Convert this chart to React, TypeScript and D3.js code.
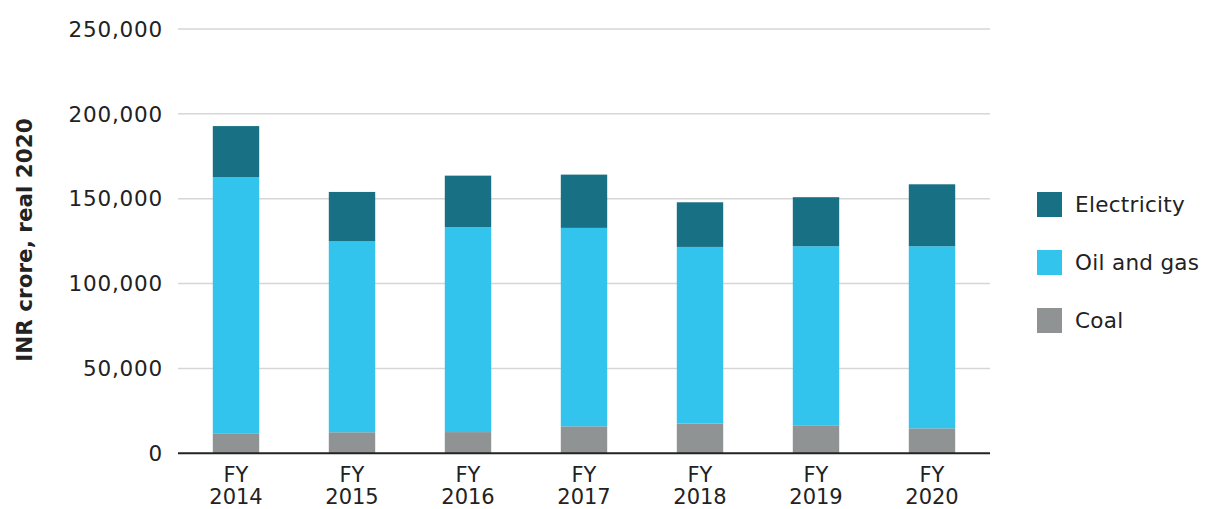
import React from "react";
import * as d3 from "d3";

const categories = ["2014", "2015", "2016", "2017", "2018", "2019", "2020"];
const coal = [11800, 12400, 12500, 15900, 17500, 16500, 14700];
const oilAndGas = [151000, 112500, 120700, 116900, 104100, 105500, 107300];
const electricity = [30000, 29100, 30400, 31400, 26300, 28900, 36500];
const yTicks = [0, 50000, 100000, 150000, 200000, 250000];
const seriesNames = ["Coal", "Oil and gas", "Electricity"];
const seriesColors = ["#8f9394", "#33c4ed", "#177084"];

const W = 1212;
const H = 509;
const FONT = "'DejaVu Sans', sans-serif";

export default function App() {
  const x = d3
    .scaleBand<string>()
    .domain(categories)
    .range([178, 990])
    .paddingInner(0.6)
    .paddingOuter(0.3);
  const y = d3.scaleLinear().domain([0, 250000]).range([453.3, 29]);

  const rows = categories.map((c, i) => ({
    cat: c,
    Coal: coal[i],
    "Oil and gas": oilAndGas[i],
    Electricity: electricity[i],
  }));
  const stack = d3.stack<any>().keys(seriesNames)(rows);
  const fmt = d3.format(",");

  const legendOrder = [2, 1, 0];

  return (
    <svg
      width={W}
      height={H}
      style={{ position: "absolute", left: 0, top: 0, background: "#fff" }}
    >
      {yTicks.filter((t) => t > 0).map((t) => (
        <line
          key={t}
          x1={178}
          x2={990}
          y1={y(t)}
          y2={y(t)}
          stroke="#d6d6d6"
          strokeWidth={1.5}
        />
      ))}
      {yTicks.map((t) => (
        <text
          key={"l" + t}
          x={163}
          y={y(t)}
          dy="0.36em"
          textAnchor="end"
          fontFamily={FONT}
          fontSize={21.5}
          letterSpacing={0.8}
          fill="#222"
        >
          {fmt(t)}
        </text>
      ))}
      <text
        transform={`translate(32,240) rotate(-90)`}
        textAnchor="middle"
        fontFamily={FONT}
        fontWeight={700}
        fontSize={21.5}
        fill="#222"
      >
        INR crore, real 2020
      </text>
      {stack.map((s, si) => (
        <g key={s.key} fill={seriesColors[si]}>
          {s.map((d, i) => (
            <rect
              key={i}
              x={x(categories[i])}
              width={x.bandwidth()}
              y={y(d[1])}
              height={y(d[0]) - y(d[1])}
            />
          ))}
        </g>
      ))}
      <line x1={178} x2={990} y1={453.3} y2={453.3} stroke="#222" strokeWidth={2} />
      {categories.map((c) => (
        <text
          key={"x" + c}
          x={(x(c) as number) + x.bandwidth() / 2}
          textAnchor="middle"
          fontFamily={FONT}
          fontSize={21}
          fill="#222"
        >
          <tspan x={(x(c) as number) + x.bandwidth() / 2} y={482}>
            FY
          </tspan>
          <tspan x={(x(c) as number) + x.bandwidth() / 2} y={504}>
            {c}
          </tspan>
        </text>
      ))}
      {legendOrder.map((si, k) => (
        <g key={"lg" + si} transform={`translate(1037,${192 + k * 58})`}>
          <rect width={25} height={25} fill={seriesColors[si]} />
          <text
            x={38}
            y={12.5}
            dy="0.36em"
            fontFamily={FONT}
            fontSize={21.5}
            letterSpacing={0.3}
            fill="#222"
          >
            {seriesNames[si]}
          </text>
        </g>
      ))}
    </svg>
  );
}
